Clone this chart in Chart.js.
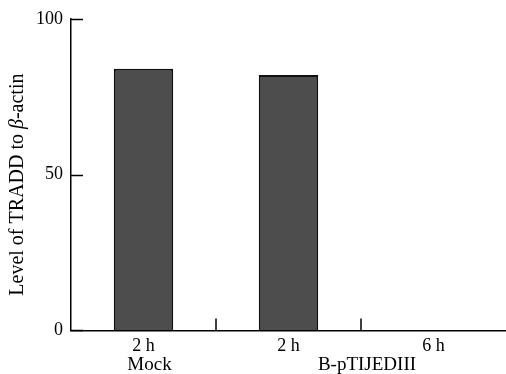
<!DOCTYPE html>
<html>
<head>
<meta charset="utf-8">
<script src="https://cdn.jsdelivr.net/npm/chart.js@4/dist/chart.umd.min.js"></script>
<style>
  html, body { margin: 0; padding: 0; background: #fff; }
  #wrap { width: 506px; height: 374px; }
</style>
</head>
<body>
<div id="wrap"><canvas id="bars" width="506" height="374"></canvas></div>
<script>
// data
const timeLabels = ['2 h', '2 h', '6 h'];
const tradd = [84, 82, 0];
const yTicks = [0, 50, 100];
const groupNames = ['Mock', 'B-pTIJEDIII'];
const groupFirst = [0, 1];
const groupLast = [0, 2];

const serif = "'Liberation Serif', 'Times New Roman', serif";

// short tick marks pointing into the plot, second label row, y title
const extras = {
  id: 'extras',
  afterDraw(chart) {
    const ctx = chart.ctx;
    const x = chart.scales.x, y = chart.scales.y;
    const area = chart.chartArea;
    ctx.save();
    ctx.strokeStyle = '#000';
    ctx.lineWidth = 1.5;
    // y tick marks
    yTicks.forEach(v => {
      const py = Math.round(y.getPixelForValue(v)) + 0.5;
      ctx.beginPath();
      ctx.moveTo(area.left, py);
      ctx.lineTo(area.left + 12, py);
      ctx.stroke();
    });
    // x tick marks between categories
    for (let i = 0; i < timeLabels.length - 1; i++) {
      const px = Math.round((x.getPixelForValue(i) + x.getPixelForValue(i + 1)) / 2);
      ctx.beginPath();
      ctx.moveTo(px, area.bottom);
      ctx.lineTo(px, area.bottom - 12);
      ctx.stroke();
    }
    // group labels
    ctx.fillStyle = '#000';
    ctx.font = '19px ' + serif;
    ctx.textAlign = 'center';
    ctx.textBaseline = 'middle';
    groupNames.forEach((g, i) => {
      const cx = (x.getPixelForValue(groupFirst[i]) + x.getPixelForValue(groupLast[i])) / 2;
      ctx.fillText(g, cx + 6, area.bottom + 35);
    });
    // y axis title with italic beta
    ctx.translate(18, (area.top + area.bottom) / 2 + 10);
    ctx.rotate(-Math.PI / 2);
    const part1 = 'Level of TRADD to ';
    const beta = '\u03B2';
    const part2 = '-actin';
    ctx.font = '20px ' + serif;
    const w1 = ctx.measureText(part1).width;
    const w3 = ctx.measureText(part2).width;
    ctx.font = 'italic 20px ' + serif;
    const w2 = ctx.measureText(beta).width;
    let sx = -(w1 + w2 + w3) / 2;
    ctx.textAlign = 'left';
    ctx.font = '20px ' + serif;
    ctx.fillText(part1, sx, 0);
    ctx.font = 'italic 20px ' + serif;
    ctx.fillText(beta, sx + w1, 0);
    ctx.font = '20px ' + serif;
    ctx.fillText(part2, sx + w1 + w2, 0);
    ctx.restore();
  }
};

new Chart(document.getElementById('bars').getContext('2d'), {
  type: 'bar',
  data: {
    labels: timeLabels,
    datasets: [{
      data: tradd,
      backgroundColor: '#4d4d4d',
      borderColor: '#111',
      borderWidth: 2,
      categoryPercentage: 1,
      barPercentage: 0.41
    }]
  },
  options: {
    responsive: false,
    animation: false,
    events: [],
    layout: { padding: { left: 28, top: 11, right: 0, bottom: 12 } },
    plugins: { legend: { display: false }, tooltip: { enabled: false } },
    scales: {
      x: {
        grid: { drawOnChartArea: false, drawTicks: false },
        border: { color: '#000', width: 1.5 },
        ticks: { color: '#000', padding: 5, font: { family: serif, size: 18 } }
      },
      y: {
        min: 0,
        max: 100,
        afterBuildTicks: s => { s.ticks = yTicks.map(v => ({ value: v })); },
        grid: { drawOnChartArea: false, drawTicks: false },
        border: { color: '#000', width: 1.5 },
        ticks: { color: '#000', padding: 8, font: { family: serif, size: 18 } }
      }
    }
  },
  plugins: [extras]
});
</script>
</body>
</html>
